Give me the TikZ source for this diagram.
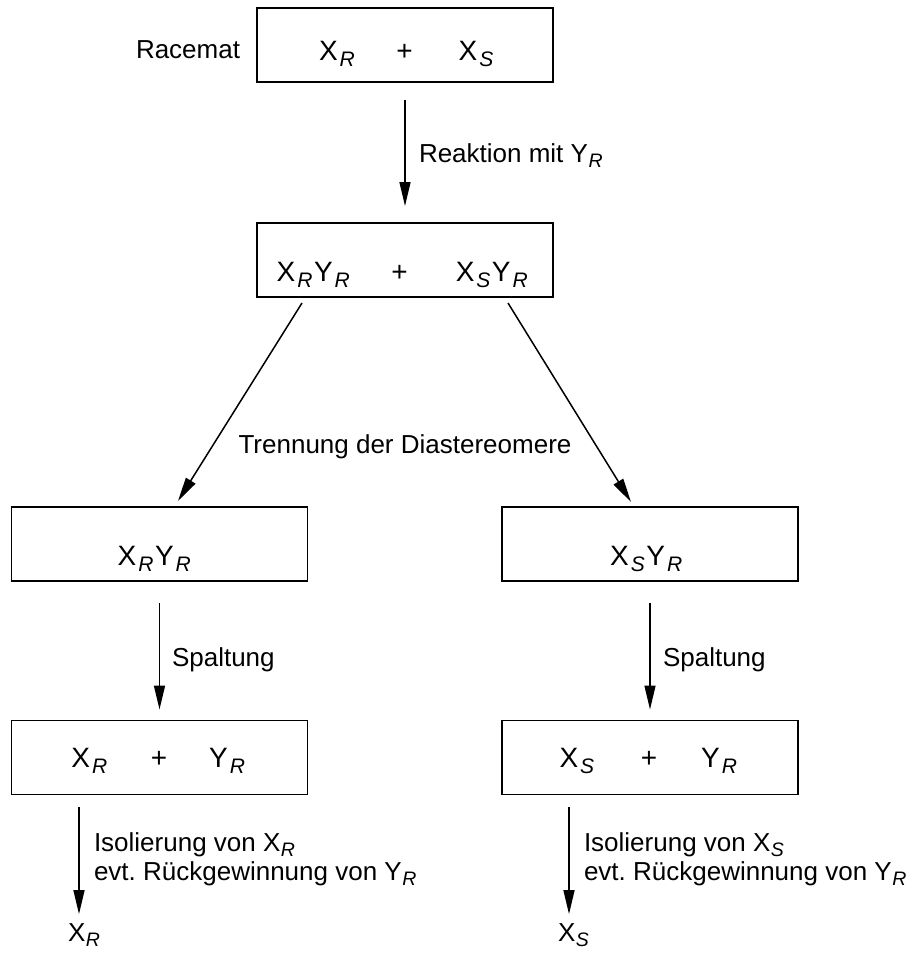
\documentclass[tikz,border=0pt]{standalone}
\usepackage{fontspec}
\setmainfont{Liberation Sans}
\usetikzlibrary{arrows.meta}
\frenchspacing
\newcommand\Sb[1]{\kern0.5pt\raisebox{-5.5pt}{\fontsize{19.5}{19.5}\selectfont\itshape #1}}
\newcommand\Sbb[1]{\kern2pt\raisebox{-6.5pt}{\fontsize{21}{21}\selectfont\itshape #1}\kern1.5pt}
\begin{document}
\begin{tikzpicture}[x=1pt,y=-1pt,
  every node/.style={outer sep=0pt},
  box/.style={draw, line width=1.8pt, minimum width=296pt, minimum height=74pt, inner sep=0pt},
  txt/.style={font=\fontsize{26}{25}\selectfont, inner sep=0pt},
  btxt/.style={font=\fontsize{28}{28}\selectfont, inner sep=0pt},
  arr/.style={line width=1.5pt, -{Triangle[length=24pt,width=11pt]}}]
\useasboundingbox (0,0) rectangle (916,956);
% row 1
\node[box] (b1) at (405,45) {};
\node[btxt, anchor=base] (t1) at (407,60) {X\Sbb{R}\hspace{40pt}+\hspace{46pt}X\Sbb{S}};
\node[txt, anchor=base west] (rac) at (136,58) {Racemat};
% row 2
\node[box] (b2) at (405,260) {};
\node[btxt, anchor=base] (t2) at (403,281) {X\Sbb{R}Y\Sbb{R}\hspace{40pt}+\hspace{48pt}X\Sbb{S}Y\Sbb{R}};
\draw[arr] ([yshift=-18pt]b1.south) -- ([yshift=17pt]b2.north);
\node[txt, anchor=base west] (l1) at (419,162) {Reaktion mit Y\Sb{R}};
% row 3
\node[box] (b3) at (159.5,544) {};
\node[btxt, anchor=base] (t3) at (155,565) {X\Sbb{R}Y\Sbb{R}};
\node[box] (b4) at (650,544) {};
\node[btxt, anchor=base] (t4) at (647,565) {X\Sbb{S}Y\Sbb{R}};
\draw[arr] ([xshift=45pt,yshift=-6pt]b2.south west) -- ([xshift=166.5pt,yshift=6pt]b3.north west);
\draw[arr] ([xshift=-45pt,yshift=-6pt]b2.south east) -- ([xshift=129pt,yshift=5pt]b4.north west);
\node[txt, anchor=base] (l2) at (405,453) {Trennung der Diastereomere};
% row 4
\node[box] (b5) at (159.5,757.5) {};
\node[btxt, anchor=base] (t5) at (159,767) {X\Sbb{R}\hspace{42pt}+\hspace{42pt}Y\Sbb{R}};
\node[box] (b6) at (650,757.5) {};
\node[btxt, anchor=base] (t6) at (649,767) {X\Sbb{S}\hspace{45pt}+\hspace{44pt}Y\Sbb{R}};
\draw[arr] ([yshift=-22pt]b3.south) -- ([yshift=11pt]b5.north);
\draw[arr] ([yshift=-22pt]b4.south) -- ([yshift=11pt]b6.north);
\node[txt, anchor=base west] (s1) at (172,666) {Spaltung};
\node[txt, anchor=base west] (s2) at (663,666) {Spaltung};
% final
\node[txt, anchor=base west] (f1) at (68,941) {X\Sb{R}};
\node[txt, anchor=base west] (f2) at (558,941) {X\Sb{S}};
\draw[arr] ([xshift=67.5pt,yshift=-12.5pt]b5.south west) -- ([xshift=11pt,yshift=9pt]f1.north west);
\draw[arr] ([xshift=67pt,yshift=-12.5pt]b6.south west) -- ([xshift=11pt,yshift=9pt]f2.north west);
\node[txt, anchor=base west] (i1) at (94,851) {Isolierung von X\Sb{R}};
\node[txt, anchor=base west] (e1) at (94,880) {evt. Rückgewinnung von Y\Sb{R}};
\node[txt, anchor=base west] (i2) at (584,851) {Isolierung von X\Sb{S}};
\node[txt, anchor=base west] (e2) at (584,880) {evt. Rückgewinnung von Y\Sb{R}};
\end{tikzpicture}
\end{document}
